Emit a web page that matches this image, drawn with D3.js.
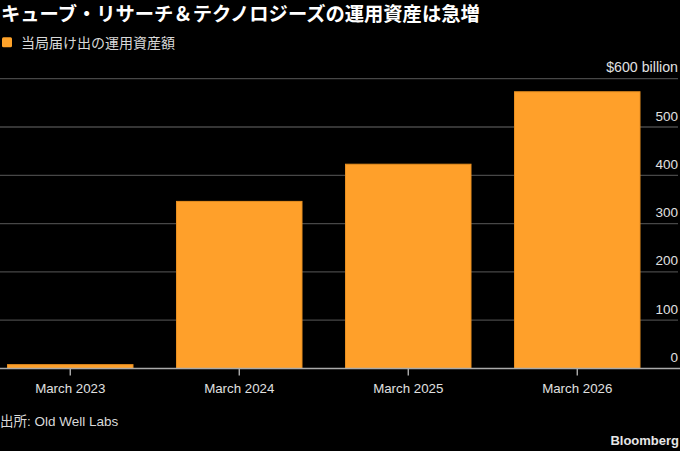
<!DOCTYPE html>
<html>
<head>
<meta charset="utf-8">
<script src="https://cdn.jsdelivr.net/npm/d3@7"></script>
<style>
html,body{margin:0;padding:0;background:#000;}
svg{display:block;}
text{font-family:"Liberation Sans",Arial,"Noto Sans CJK JP",sans-serif;}
.cjk{font-family:"Liberation Sans",Arial,"Noto Sans CJK JP",sans-serif;}
</style>
</head>
<body>
<svg id="chart" width="680" height="451"></svg>
<script>
const categories = ["March 2023", "March 2024", "March 2025", "March 2026"];
const values = [9, 347, 424, 574];
const yTicks = [0, 100, 200, 300, 400, 500, 600];
const yTickLabels = ["0", "100", "200", "300", "400", "500", "$600 billion"];
const title = "キューブ・リサーチ＆テクノロジーズの運用資産は急増";
const legendLabel = "当局届け出の運用資産額";
const sourceText = "出所: Old Well Labs";

const svg = d3.select("#chart");
const W = 680, H = 451;
svg.append("rect").attr("width", W).attr("height", H).attr("fill", "#000");

const x = d3.scaleBand().domain(categories).range([0, 647.5]).paddingInner(0.2515).paddingOuter(0.0414);
const y = d3.scaleLinear().domain([0, 600]).range([368.5, 78.7]);

// title
svg.append("text").attr("class","cjk").attr("x", 1).attr("y", 21)
  .attr("fill", "#fff").attr("font-size", 19.3).attr("font-weight", "bold").text(title);

// legend
svg.append("rect").attr("x", 2).attr("y", 37.3).attr("width", 10).attr("height", 10).attr("rx", 1.5)
  .attr("fill", "#ffa32a");
svg.append("text").attr("class","cjk").attr("x", 21).attr("y", 47.5)
  .attr("fill", "#d9d9d9").attr("font-size", 14).text(legendLabel);

// gridlines
const g = svg.append("g");
g.selectAll("line.grid").data(yTicks.filter(d => d > 0)).join("line")
  .attr("class", "grid")
  .attr("x1", 0).attr("x2", 678)
  .attr("y1", d => y(d)).attr("y2", d => y(d))
  .attr("stroke", "#474747").attr("stroke-width", 1.3);

// bars
g.selectAll("rect.bar").data(values).join("rect")
  .attr("class", "bar")
  .attr("x", (d, i) => x(categories[i]) + 0.5)
  .attr("width", x.bandwidth() - 1)
  .attr("y", d => y(d) + 0.5)
  .attr("height", d => y(0) - y(d) - 0.5)
  .attr("fill", "#ffa02a")
  .attr("stroke", "#e88f20")
  .attr("stroke-width", 1);

// y labels
g.selectAll("text.ylab").data(yTicks).join("text")
  .attr("class", "ylab")
  .attr("x", 678)
  .attr("y", d => y(d) - 6.5)
  .attr("text-anchor", "end")
  .attr("fill", "#e0e0e0")
  .attr("font-size", (d, i) => i === yTicks.length - 1 ? 14.2 : 13.5)
  .text((d, i) => yTickLabels[i]);

// x axis
const xAxis = d3.axisBottom(x).tickSize(7).tickPadding(6).tickSizeOuter(0);
const ax = svg.append("g").attr("transform", `translate(0,${y(0)})`).call(xAxis);
ax.select(".domain").remove();
ax.selectAll(".tick line").attr("stroke", "#bbb").attr("stroke-width", 1.3);
ax.selectAll(".tick text").attr("fill", "#e0e0e0").attr("font-size", 13.3)
  .attr("font-family", "Liberation Sans, Arial, sans-serif").attr("dy", "0.9em");
svg.append("line").attr("x1", 0).attr("x2", 680).attr("y1", y(0)).attr("y2", y(0))
  .attr("stroke", "#aaa").attr("stroke-width", 1.6);

// source
svg.append("text").attr("class","cjk").attr("x", 0).attr("y", 426)
  .attr("fill", "#d9d9d9").attr("font-size", 13.5).text(sourceText);
svg.append("text").attr("x", 679).attr("y", 445).attr("text-anchor", "end")
  .attr("fill", "#e6e6e6").attr("font-size", 13).attr("font-weight", "bold").text("Bloomberg");
</script>
</body>
</html>
